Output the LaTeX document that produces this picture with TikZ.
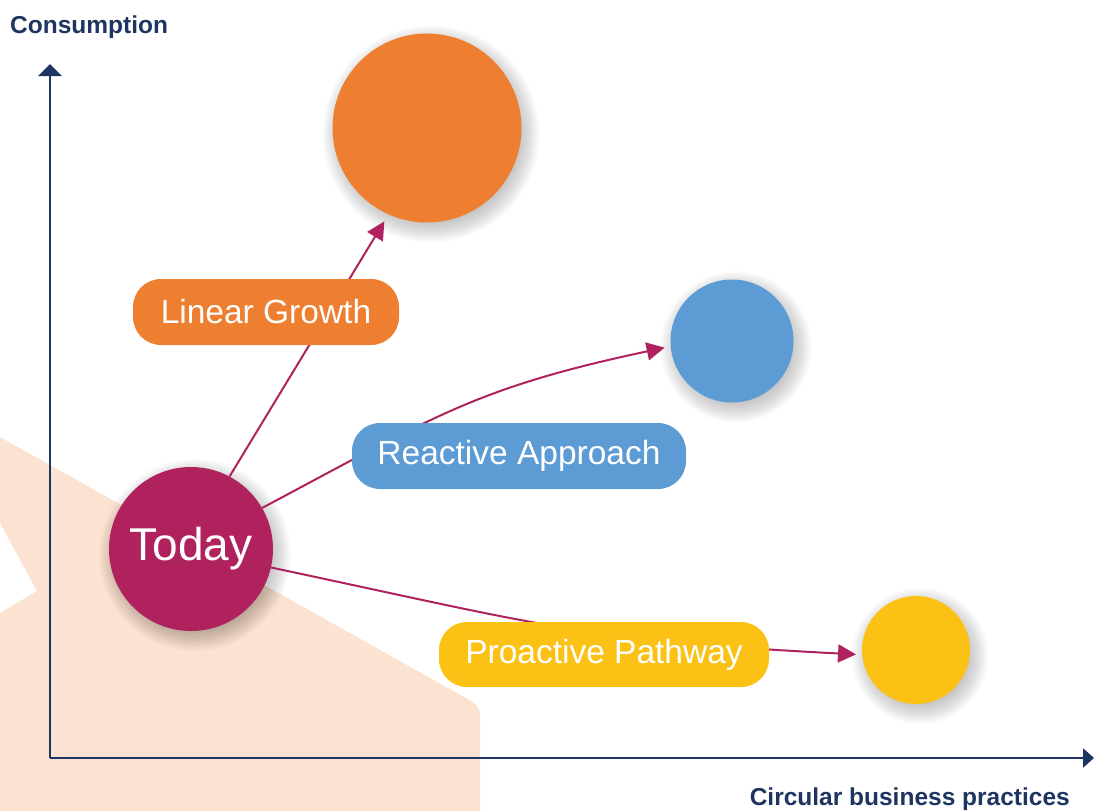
\documentclass[tikz,border=0pt]{standalone}
\usepackage{fontspec}
\setmainfont{Liberation Sans}
\usetikzlibrary{arrows.meta,calc}
\definecolor{cOrange}{RGB}{238,127,48}
\definecolor{cBlue}{RGB}{92,155,211}
\definecolor{cYellow}{RGB}{252,193,21}
\definecolor{cMagenta}{RGB}{176,34,94}
\definecolor{cNavy}{RGB}{30,53,97}
\definecolor{cPeach}{RGB}{252,227,209}
\newcommand{\softshadow}[2]{%
  \foreach \k in {0,...,17}{%
    \fill[black, opacity=0.016] ($(#1)+(4,6)$) circle[radius={(#2-8+\k*1.3)*1pt}];
  }%
}
\begin{document}
\begin{tikzpicture}[x=1pt,y=-1pt,
  bubble/.style={circle, inner sep=0pt, draw=none},
  labelbox/.style={rounded corners=28pt, inner sep=0pt, minimum height=66pt, text=white,
    font=\fontsize{33.5}{40}\selectfont},
  axislabel/.style={inner sep=0pt, text=cNavy, font=\bfseries\fontsize{24.5}{28}\selectfont},
  axisline/.style={draw=cNavy, line width=2.5pt},
  pathline/.style={draw=cMagenta, line width=2pt, -{Triangle[length=18pt,width=18pt]}}
]
\useasboundingbox (0,0) rectangle (1094,811);
% peach background shape
\fill[cPeach] (0,811) -- (0,613) -- (37,591) -- (0,523) -- (0,437) -- (462.6,696.2)
   .. controls (480,706) .. (480,726) -- (480,811) -- cycle;
% axes
\coordinate (origin) at (50,758);
\coordinate (ytip) at (50,64);
\coordinate (xtip) at (1094,758);
\draw[axisline, -{Triangle[length=12pt,width=23pt]}] (origin) -- (ytip);
\draw[axisline, -{Triangle[length=11pt,width=19pt]}] (origin) -- (xtip);
\node[axislabel, anchor=base west] (ylab) at (10,33) {Consumption};
\node[axislabel, anchor=base east] (xlab) at (1070,805) {Circular business practices};
% circle centres and shadows
\coordinate (cbig) at (427,128);
\coordinate (cmid) at (732,341);
\coordinate (csmall) at (916,650);
\coordinate (ctoday) at (191,549);
\softshadow{cbig}{94.5}
\softshadow{cmid}{61.5}
\softshadow{csmall}{54}
\softshadow{ctoday}{82}
% circles
\node[bubble, fill=cOrange, minimum size=189pt] (big) at (cbig) {};
\node[bubble, fill=cBlue, minimum size=123pt] (mid) at (cmid) {};
\node[bubble, fill=cYellow, minimum size=108pt] (small) at (csmall) {};
\node[bubble, fill=cMagenta, minimum size=164pt, text=white,
   font=\fontsize{46}{50}\selectfont] (today) at (ctoday) {Today};
% connectors
\draw[pathline, shorten >=8pt] (today.62.8) -- (big.246.4);
\draw[pathline, shorten >=6pt] (today.30.7) to[out=28, in=192, looseness=1.15] (mid.185.1);
\draw[pathline, shorten >=6pt] (today.-13.7) to[out=-12, in=177, looseness=1.2] (small.185.7);
% labels
\node[labelbox, fill=cOrange, minimum width=266pt] (lin) at (266,312) {Linear Growth};
\node[labelbox, fill=cBlue, minimum width=334pt] (rea) at (519,456) {Reactive Approach};
\node[labelbox, fill=cYellow, minimum width=330pt, minimum height=65pt] (pro) at (604,654.5) {Proactive Pathway};
\end{tikzpicture}
\end{document}
